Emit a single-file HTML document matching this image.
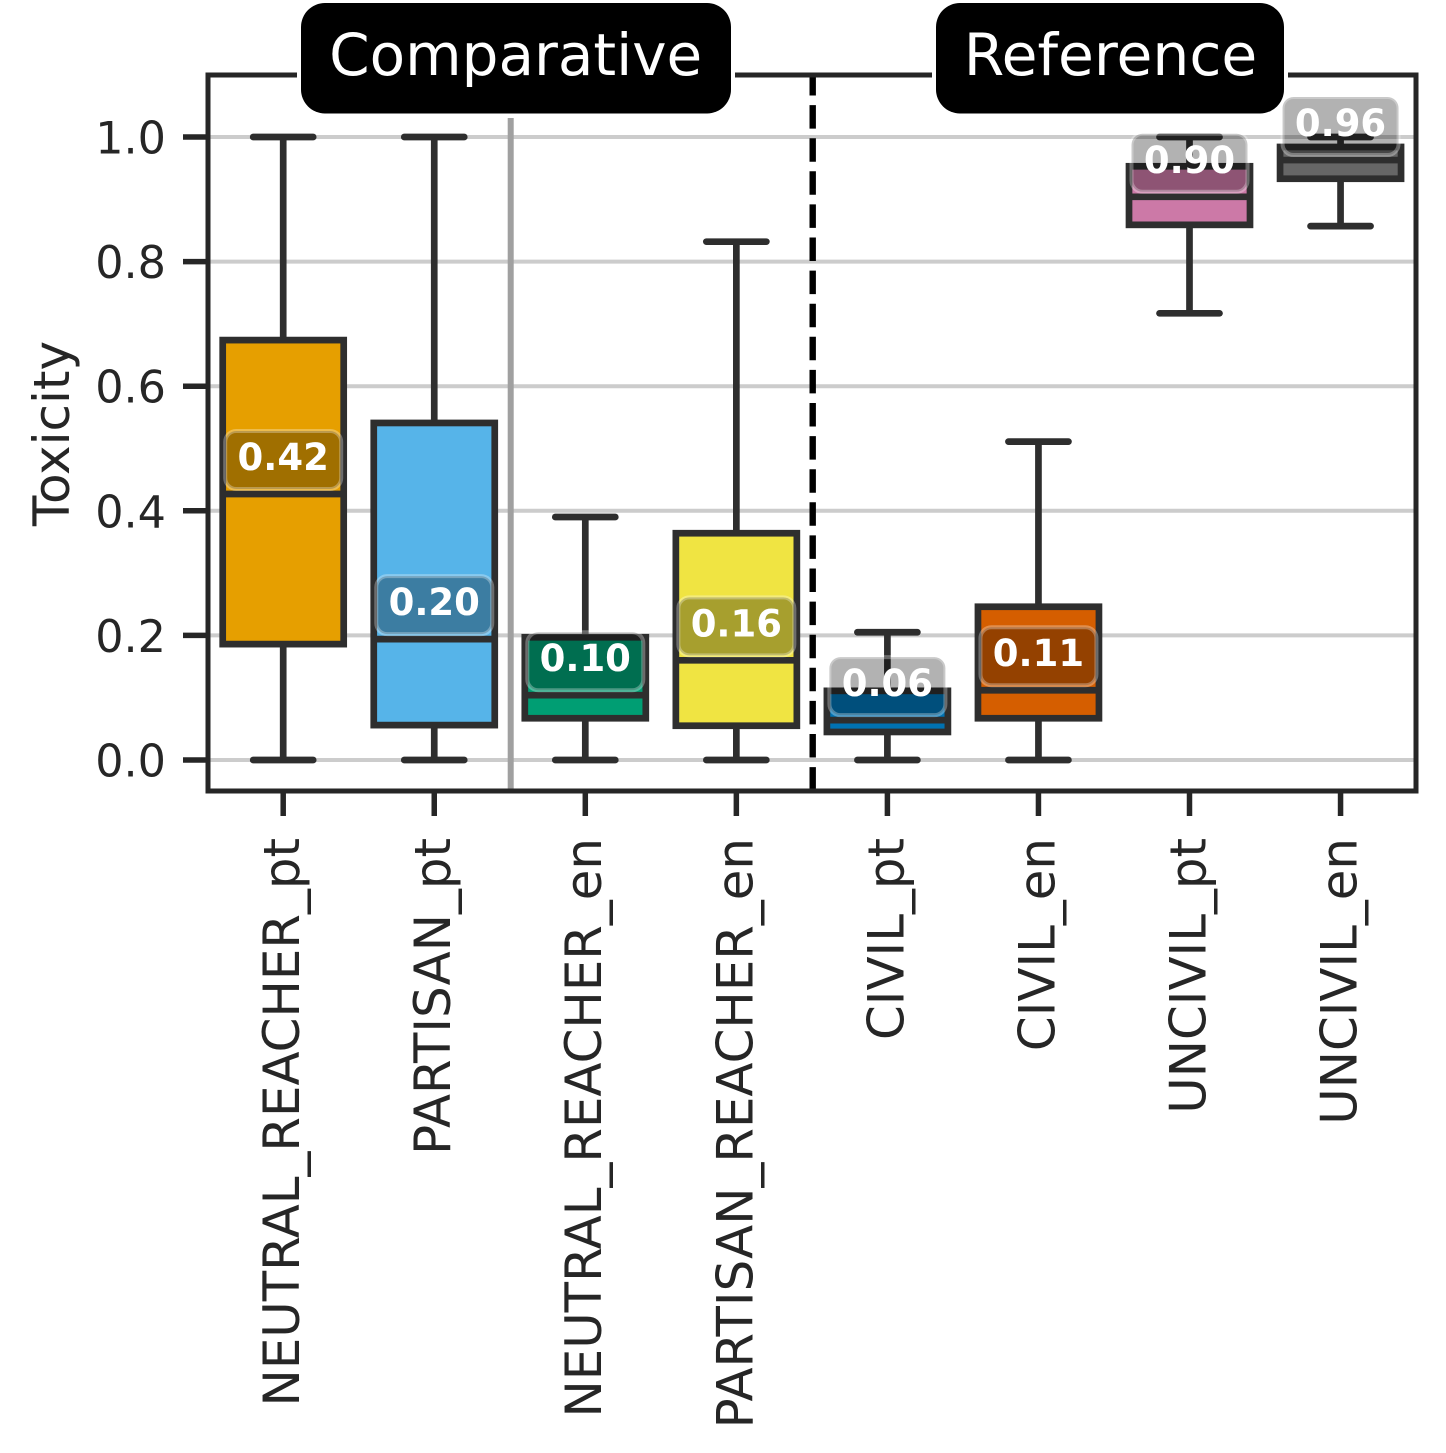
<!DOCTYPE html>
<html lang="en">
<head>
<meta charset="utf-8">
<title>Toxicity box plot</title>
<style>
  html, body { margin: 0; padding: 0; background: #ffffff; }
  svg { display: block; }
  text { font-family: "DejaVu Sans", "Liberation Sans", sans-serif; }
</style>
</head>
<body>
<svg id="chart" xmlns="http://www.w3.org/2000/svg" width="1446" height="1453" viewBox="0 0 1446 1453">
  <rect x="0" y="0" width="1446" height="1453" fill="#ffffff"/>
  <g id="grid"></g>
  <line x1="510.7" y1="118" x2="510.7" y2="791" stroke="#a0a0a0" stroke-width="6"/>
  <g id="boxes"></g>
  <line x1="812.7" y1="75" x2="812.7" y2="791" stroke="#000000" stroke-width="6.4" stroke-dasharray="23.5 9.6" stroke-dashoffset="3"/>
  <rect x="208" y="75" width="1208" height="716" fill="none" stroke="#262626" stroke-width="5"/>
  <g id="ticks"></g>
  <g id="labels"></g>
  <text transform="translate(69 433.5) rotate(-90)" text-anchor="middle" font-size="50" fill="#262626">Toxicity</text>
  <rect x="301" y="3" width="430" height="110.5" rx="24" ry="24" fill="#000000"/>
  <text x="515.7" y="75" text-anchor="middle" font-size="58" fill="#ffffff">Comparative</text>
  <rect x="936" y="3" width="348" height="110.5" rx="24" ry="24" fill="#000000"/>
  <text x="1110.5" y="75" text-anchor="middle" font-size="58.3" fill="#ffffff">Reference</text>
  <line x1="297" y1="75" x2="301" y2="75" stroke="#ffffff" stroke-width="7"/>
  <line x1="731" y1="75" x2="735" y2="75" stroke="#ffffff" stroke-width="7"/>
  <line x1="932" y1="75" x2="936" y2="75" stroke="#ffffff" stroke-width="7"/>
  <line x1="1284" y1="75" x2="1288" y2="75" stroke="#ffffff" stroke-width="7"/>
</svg>
<script>
var categories = ["NEUTRAL_REACHER_pt", "PARTISAN_pt", "NEUTRAL_REACHER_en", "PARTISAN_REACHER_en", "CIVIL_pt", "CIVIL_en", "UNCIVIL_pt", "UNCIVIL_en"];
var whiskerLow = [0, 0, 0, 0, 0, 0, 0.717, 0.857];
var q1Values = [0.186, 0.056, 0.067, 0.055, 0.045, 0.067, 0.859, 0.933];
var medianValues = [0.427, 0.194, 0.104, 0.160, 0.064, 0.112, 0.904, 0.963];
var q3Values = [0.674, 0.541, 0.197, 0.364, 0.111, 0.246, 0.953, 0.984];
var whiskerHigh = [1, 1, 0.390, 0.832, 0.205, 0.511, 1, 1];
var printedMedians = ["0.42", "0.20", "0.10", "0.16", "0.06", "0.11", "0.90", "0.96"];
var boxColors = ["#E69F00", "#56B4E9", "#009E73", "#F0E442", "#0072B2", "#D55E00", "#CC79A7", "#666666"];
var yTicks = [0, 0.2, 0.4, 0.6, 0.8, 1];
var yTickLabels = ["0.0", "0.2", "0.4", "0.6", "0.8", "1.0"];

var NS = "http://www.w3.org/2000/svg";
var INK = "#2e2e2e";

function xScale(index) {
  return 283.2 + 151.05 * index;
}
function yScale(value) {
  return 760 - 623 * value;
}
function make(parent, tag, props) {
  var el = document.createElementNS(NS, tag);
  Object.keys(props).forEach(function (key) {
    el.setAttribute(key, props[key]);
  });
  parent.appendChild(el);
  return el;
}
function slug(text) {
  return text.toLowerCase().replace(/_/g, "-");
}

var gridLayer = document.getElementById("grid");
var boxLayer = document.getElementById("boxes");
var tickLayer = document.getElementById("ticks");
var labelLayer = document.getElementById("labels");

yTicks.forEach(function (tick, i) {
  var y = yScale(tick);
  var gridLine = make(gridLayer, "line", { x1: 208, x2: 1416, y1: y, y2: y, stroke: "#cccccc", "stroke-width": 4 });
  
  

  var tickMark = make(tickLayer, "line", { x1: 183, x2: 208, y1: y, y2: y, stroke: "#262626", "stroke-width": 5.5 });
  
  

  var tickText = make(tickLayer, "text", { x: 166, y: y + 16.5, "text-anchor": "end", "font-size": 44.5, fill: "#262626" });
  tickText.textContent = yTickLabels[i];
  
  
});

categories.forEach(function (category, i) {
  var cx = xScale(i);
  var name = slug(category);
  var boxHalf = 60.5;
  var capHalf = 30;

  var group = make(boxLayer, "g", {});
  
  

  var lowerWhisker = make(group, "line", { x1: cx, x2: cx, y1: yScale(q1Values[i]), y2: yScale(whiskerLow[i]), stroke: INK, "stroke-width": 6.7 });
  
  

  var upperWhisker = make(group, "line", { x1: cx, x2: cx, y1: yScale(q3Values[i]), y2: yScale(whiskerHigh[i]), stroke: INK, "stroke-width": 6.7 });
  
  

  var lowerCap = make(group, "line", { x1: cx - capHalf, x2: cx + capHalf, y1: yScale(whiskerLow[i]), y2: yScale(whiskerLow[i]), stroke: INK, "stroke-width": 6.7, "stroke-linecap": "round" });
  
  

  var upperCap = make(group, "line", { x1: cx - capHalf, x2: cx + capHalf, y1: yScale(whiskerHigh[i]), y2: yScale(whiskerHigh[i]), stroke: INK, "stroke-width": 6.7, "stroke-linecap": "round" });
  
  

  var body = make(group, "rect", { x: cx - boxHalf, y: yScale(q3Values[i]), width: boxHalf * 2, height: yScale(q1Values[i]) - yScale(q3Values[i]), fill: boxColors[i], stroke: INK, "stroke-width": 6.7 });
  
  

  var medianLine = make(group, "line", { x1: cx - boxHalf, x2: cx + boxHalf, y1: yScale(medianValues[i]), y2: yScale(medianValues[i]), stroke: INK, "stroke-width": 6.7 });
  
  

  var xTick = make(tickLayer, "line", { x1: cx, x2: cx, y1: 791, y2: 816, stroke: "#262626", "stroke-width": 5.5 });
  
  

  var xLabel = make(tickLayer, "text", { transform: "translate(" + (cx + 15.9) + " 838) rotate(-90)", "text-anchor": "end", "font-size": 49.8, fill: "#262626" });
  xLabel.textContent = category;
  
  

  var labelCenter = yScale(medianValues[i]) - 34;
  var labelBox = make(labelLayer, "rect", { x: cx - 58, y: labelCenter - 29, width: 116, height: 58, rx: 11, ry: 11, fill: "#000000", "fill-opacity": 0.3, stroke: "#ffffff", "stroke-opacity": 0.3, "stroke-width": 4 });
  
  

  var labelText = make(labelLayer, "text", { x: cx, y: labelCenter + 10, "text-anchor": "middle", "font-size": 37, "font-weight": "bold", fill: "#ffffff" });
  labelText.textContent = printedMedians[i];
  
  
});
</script>
</body>
</html>
